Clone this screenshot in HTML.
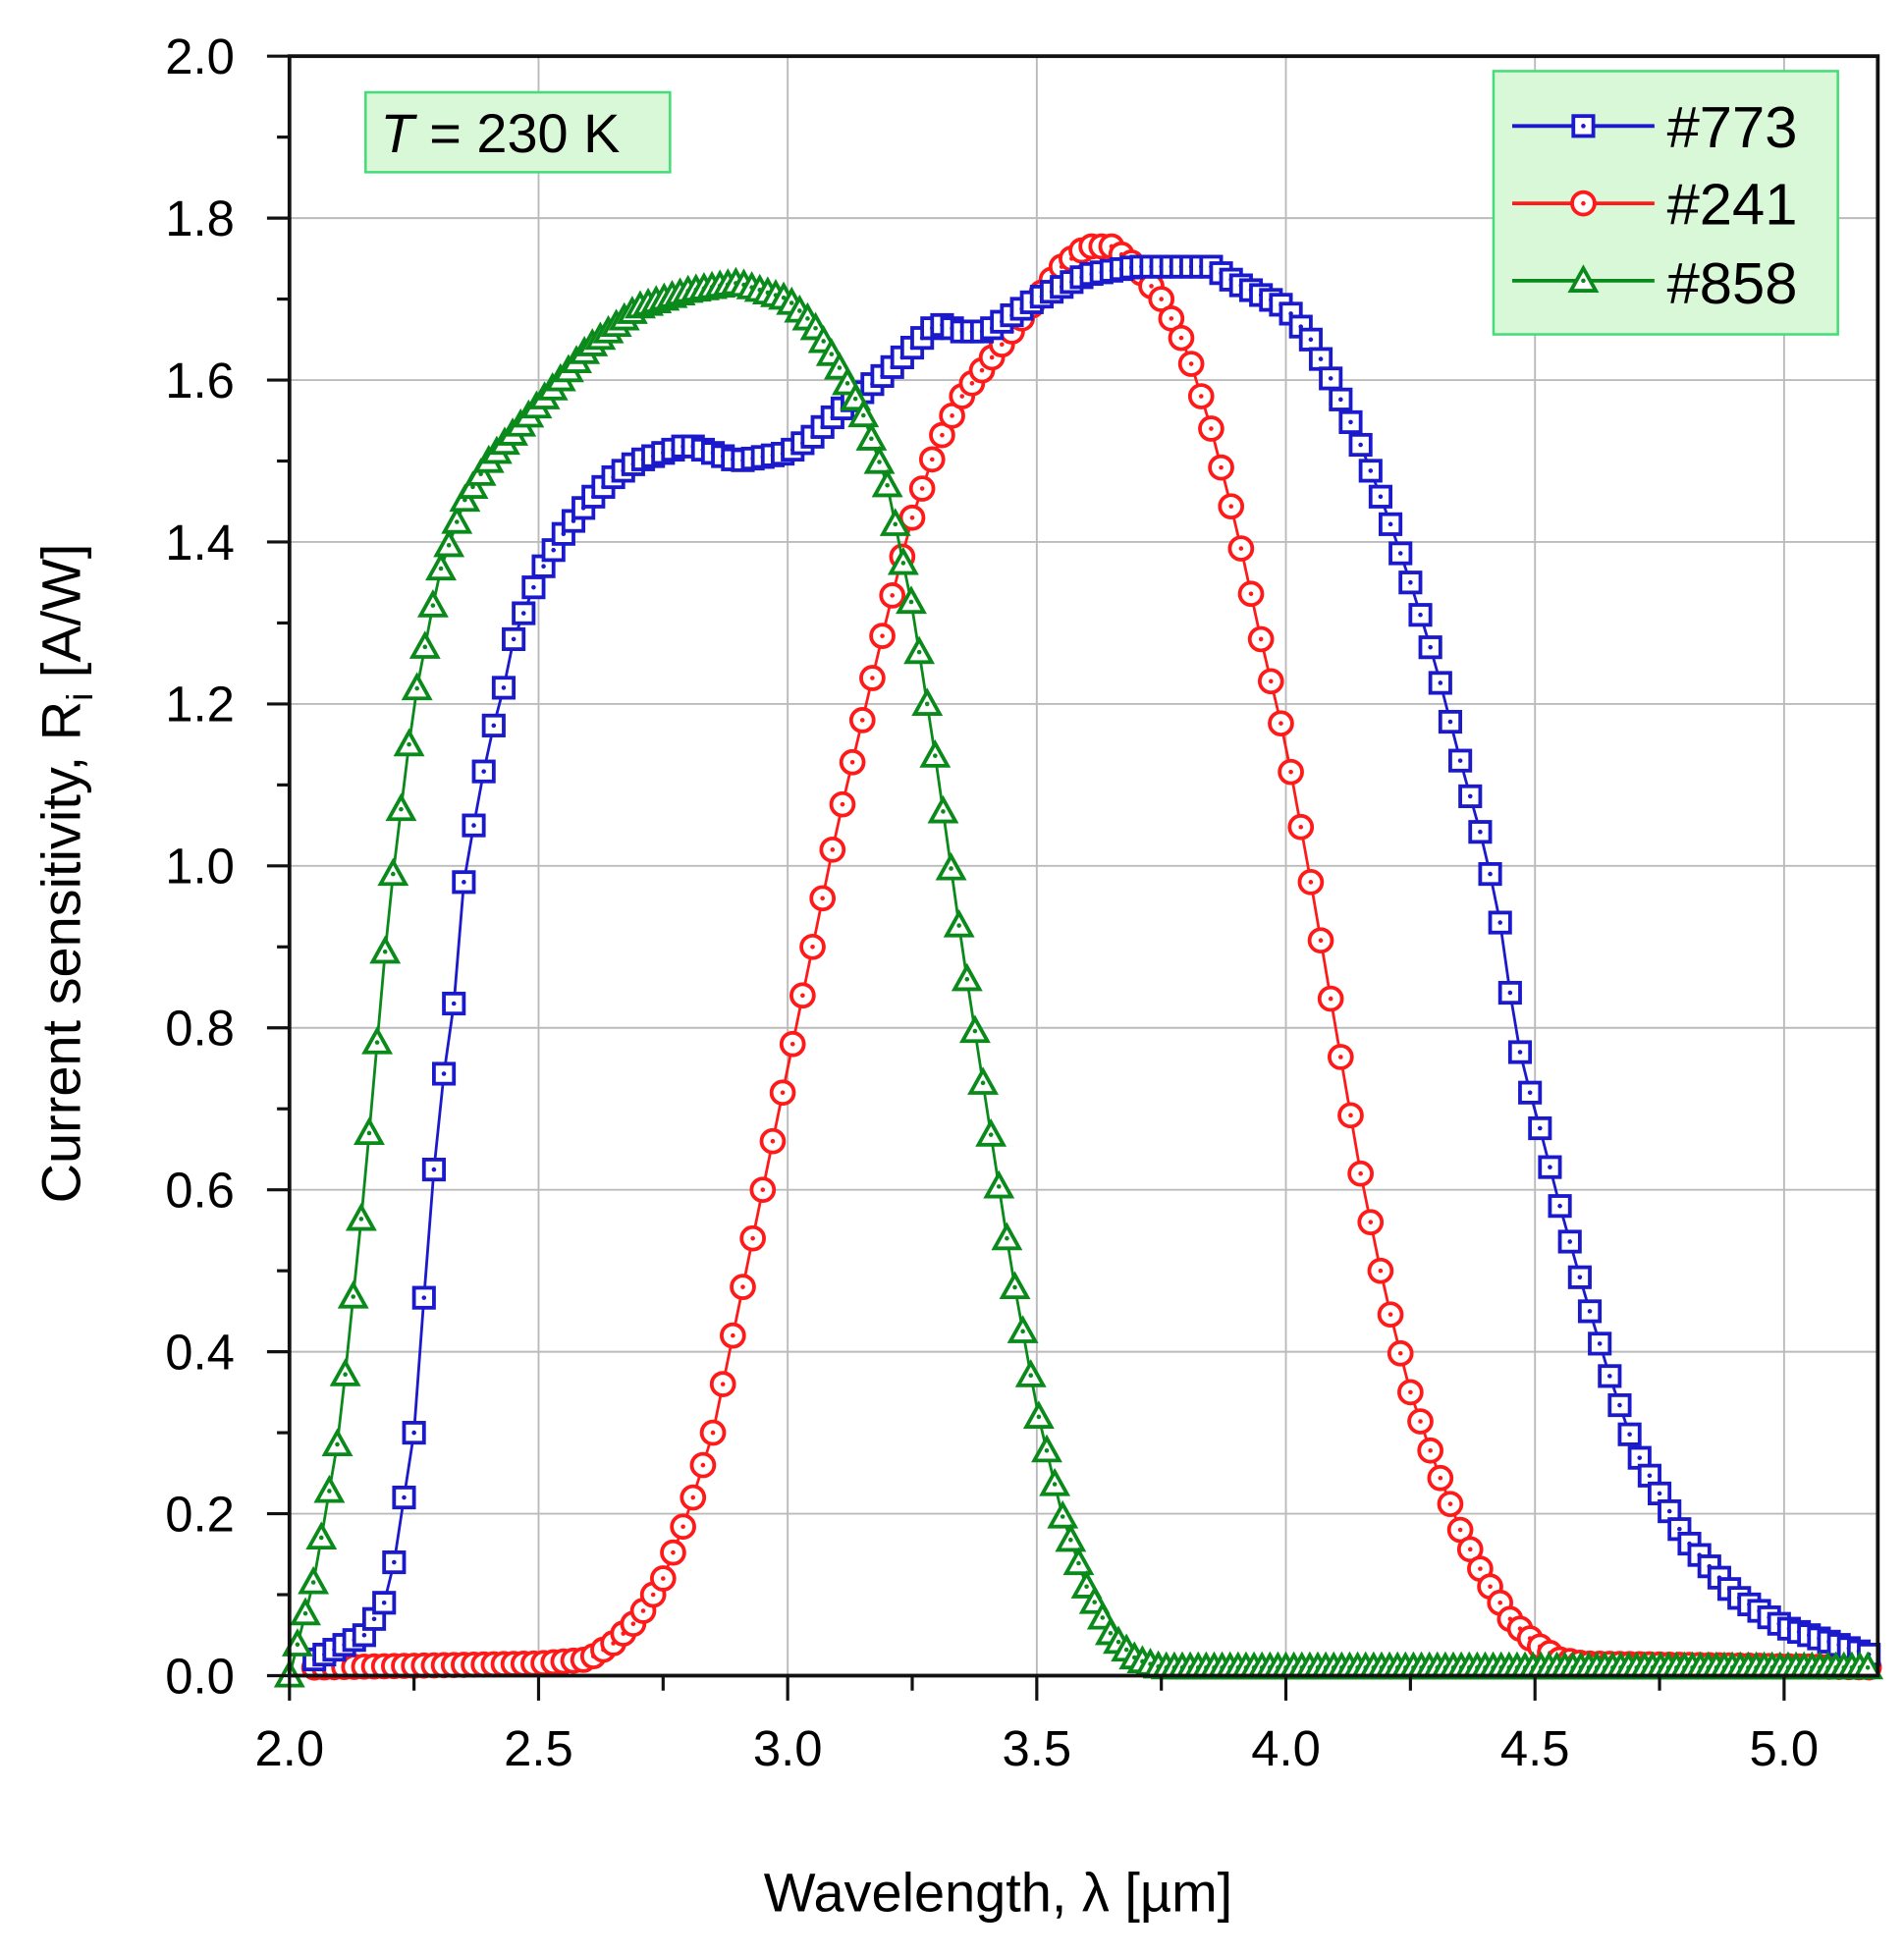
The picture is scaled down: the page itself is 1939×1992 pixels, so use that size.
<!DOCTYPE html>
<html><head><meta charset="utf-8"><style>
html,body{margin:0;padding:0;background:#fff;}
svg{display:block;}
text{font-family:"Liberation Sans",Arial,sans-serif;fill:#000;}
</style></head><body>
<svg id="s" width="1939" height="1992" viewBox="0 0 1526 1567.7" preserveAspectRatio="none" xmlns="http://www.w3.org/2000/svg">
<rect x="0" y="0" width="1526" height="1568" fill="#fff"/>
<g id="grid"></g>
<g id="data"></g>
<g id="axes"></g>
<rect x="293" y="74" width="244" height="64" fill="#d8f8d8" stroke="#44dd77" stroke-width="2"/>
<text x="305" y="122" font-size="44"><tspan font-style="italic">T</tspan> = 230 K</text>
<rect x="1197" y="57" width="276" height="211" fill="#d8f8d8" stroke="#44dd77" stroke-width="2"/>
<g id="leg"></g>
<text x="1336" y="118" font-size="47">#773</text>
<text x="1336" y="180" font-size="47">#241</text>
<text x="1336" y="243" font-size="47">#858</text>
<text x="800" y="1532" font-size="44" text-anchor="middle">Wavelength, λ [µm]</text>
<text transform="translate(64,700) rotate(-90)" font-size="44" text-anchor="middle">Current sensitivity, R<tspan font-size="29" dy="10">i</tspan><tspan dy="-10"> [A/W]</tspan></text>
</svg>
<script>
var NS="http://www.w3.org/2000/svg";
function el(p,t,a){var e=document.createElementNS(NS,t);for(var k in a)e.setAttribute(k,a[k]);p.appendChild(e);return e;}
var X0=232,XU=399.3,Y0=1343,YU=649,XR=1505,YT=45;
function px(l){return X0+(l-2)*XU;} function py(r){return Y0-r*YU;}
var g=document.getElementById('grid'),ax=document.getElementById('axes'),d=document.getElementById('data'),lg=document.getElementById('leg');
for(var l=2.5;l<5.1;l+=0.5) el(g,'line',{x1:px(l),x2:px(l),y1:YT,y2:Y0,stroke:'#bbb','stroke-width':1.5});
for(var r=0.2;r<2;r+=0.2) el(g,'line',{x1:X0,x2:XR,y1:py(r),y2:py(r),stroke:'#bbb','stroke-width':1.5});
el(ax,'rect',{x:X0,y:YT,width:XR-X0,height:Y0-YT,fill:'none',stroke:'#111','stroke-width':3});
for(var i=0;i<=20;i++){var r=i*0.1,y=py(r);el(ax,'line',{x1:X0-(i%2?10:18),x2:X0,y1:y,y2:y,stroke:'#111','stroke-width':2.5});
 if(i%2==0){var t=el(ax,'text',{x:188,y:y+14,'font-size':40,'text-anchor':'end'});t.textContent=r.toFixed(1);}}
for(var i=0;i<=12;i++){var l=2+i*0.25,x=px(l);if(x>XR)break;el(ax,'line',{x1:x,x2:x,y1:Y0,y2:Y0+(i%2?12:20),stroke:'#111','stroke-width':2.5});
 if(i%2==0){var t=el(ax,'text',{x:x,y:Y0+72,'font-size':40,'text-anchor':'middle'});t.textContent=l.toFixed(1);}}
function interp(pts,l){for(var i=0;i<pts.length-1;i++){if(l>=pts[i][0]&&l<=pts[i+1][0]){var f=(l-pts[i][0])/(pts[i+1][0]-pts[i][0]);return pts[i][1]+f*(pts[i+1][1]-pts[i][1]);}}return pts[pts.length-1][1];}
var blue=[[2.05,0.02],[2.15,0.05],[2.2,0.1],[2.25,0.3],[2.28,0.55],[2.3,0.7],[2.33,0.83],[2.35,0.98],[2.37,1.05],[2.4,1.15],[2.43,1.22],[2.45,1.28],[2.5,1.36],[2.55,1.41],[2.6,1.45],[2.65,1.48],[2.7,1.5],[2.8,1.52],[2.85,1.51],[2.9,1.5],[3.0,1.51],[3.05,1.53],[3.1,1.56],[3.2,1.61],[3.3,1.67],[3.35,1.66],[3.4,1.66],[3.5,1.7],[3.6,1.73],[3.7,1.74],[3.85,1.74],[3.9,1.72],[4.0,1.69],[4.05,1.65],[4.1,1.59],[4.15,1.52],[4.2,1.44],[4.25,1.35],[4.3,1.25],[4.35,1.13],[4.4,1.02],[4.43,0.93],[4.46,0.8],[4.48,0.74],[4.5,0.7],[4.55,0.58],[4.6,0.47],[4.65,0.37],[4.7,0.28],[4.8,0.17],[4.9,0.1],[5.0,0.06],[5.1,0.04],[5.2,0.02]];
var red=[[2.05,0.01],[2.5,0.015],[2.6,0.02],[2.65,0.04],[2.7,0.07],[2.75,0.12],[2.8,0.2],[2.85,0.3],[2.9,0.45],[2.95,0.6],[3.0,0.75],[3.05,0.9],[3.1,1.05],[3.15,1.18],[3.2,1.31],[3.25,1.43],[3.3,1.52],[3.35,1.58],[3.4,1.62],[3.45,1.66],[3.5,1.7],[3.55,1.74],[3.6,1.765],[3.65,1.765],[3.7,1.74],[3.75,1.7],[3.8,1.64],[3.85,1.54],[3.9,1.42],[3.95,1.28],[4.0,1.15],[4.05,0.98],[4.1,0.8],[4.15,0.62],[4.2,0.47],[4.25,0.35],[4.3,0.26],[4.35,0.18],[4.4,0.12],[4.45,0.07],[4.5,0.04],[4.55,0.02],[4.6,0.015],[5.2,0.01]];
var green=[[2.0,0.0],[2.05,0.12],[2.1,0.3],[2.15,0.6],[2.2,0.95],[2.25,1.2],[2.3,1.36],[2.35,1.45],[2.4,1.5],[2.5,1.57],[2.6,1.64],[2.7,1.69],[2.8,1.71],[2.9,1.72],[3.0,1.7],[3.05,1.67],[3.1,1.62],[3.15,1.56],[3.2,1.47],[3.25,1.32],[3.3,1.12],[3.35,0.9],[3.4,0.7],[3.45,0.5],[3.5,0.33],[3.55,0.2],[3.6,0.11],[3.65,0.05],[3.7,0.02],[3.75,0.01],[5.2,0.01]];
function marker(p,type,x,y,c){
 if(type=='s'){el(p,'rect',{x:x-8,y:y-8,width:16,height:16,fill:'#fff',stroke:c,'stroke-width':3});}
 else if(type=='o'){el(p,'circle',{cx:x,cy:y,r:9,fill:'#fff',stroke:c,'stroke-width':3});}
 else {el(p,'polygon',{points:(x)+','+(y-10)+' '+(x-10)+','+(y+8)+' '+(x+10)+','+(y+8),fill:'#fff',stroke:c,'stroke-width':3});}
 el(p,'circle',{cx:x,cy:y,r:1.8,fill:c});
}
function series(pts,start,end,step,type,c){
 var pp=[];for(var l=start;l<=end+1e-9;l+=step){pp.push([px(l),py(interp(pts,l))]);}
 var gg=el(d,'g',{});
 el(gg,'polyline',{points:pp.map(function(p){return p[0].toFixed(1)+','+p[1].toFixed(1)}).join(' '),fill:'none',stroke:c,'stroke-width':2.2});
 pp.forEach(function(p){marker(gg,type,p[0],p[1],c);});
}
series(red,2.05,5.18,0.02,'o','#ff1a1a');
series(blue,2.05,5.18,0.02,'s','#1a1acc');
series(green,2.0,5.18,0.016,'t','#0a8a1a');
var ly=[101,163,225],lc=['#1a1acc','#ff1a1a','#0a8a1a'],lt=['s','o','t'];
for(var i=0;i<3;i++){el(lg,'line',{x1:1212,x2:1326,y1:ly[i],y2:ly[i],stroke:lc[i],'stroke-width':3});marker(lg,lt[i],1269,ly[i],lc[i]);}
</script>
</body></html>
